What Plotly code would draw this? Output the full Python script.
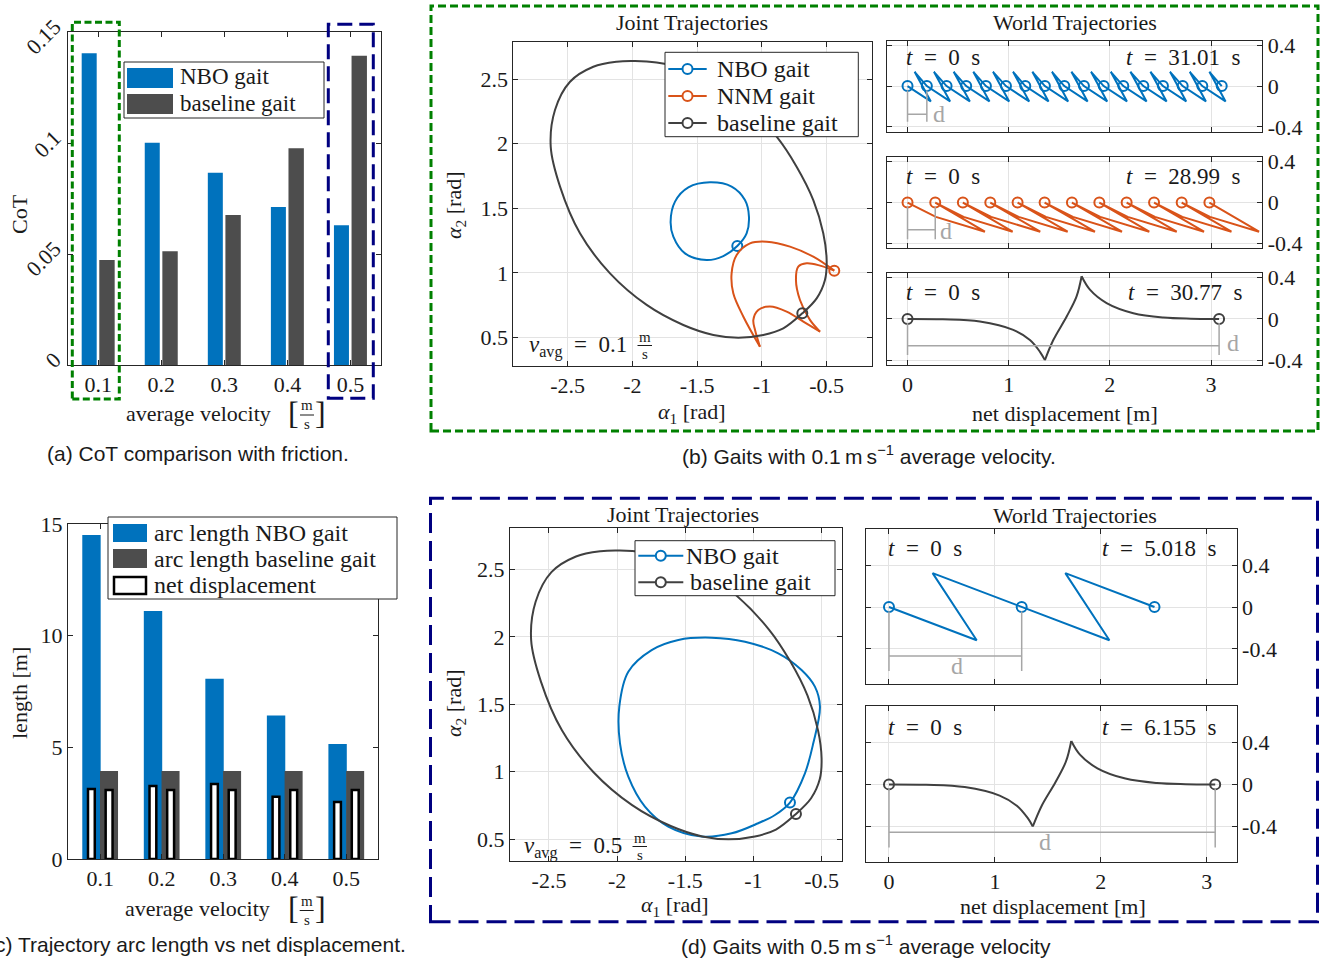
import plotly.graph_objects as go

W, H = 1325, 961
SERIF = "Liberation Serif"
SANS = "Liberation Sans"
TXT = "#1a1a1a"
AX = "#262626"
BLUE = "#0072BD"
ORANGE = "#D95319"
BASE_BAR = "#4D4D4D"
BASE_LINE = "#404040"
GRAY = "#A6A6A6"
GRID = "#E3E3E3"
GREEN = "rgb(0,128,0)"
NAVY = "rgb(0,0,128)"

# ------------------------------------------------------------------ data
velocities = [0.1, 0.2, 0.3, 0.4, 0.5]
velocity_labels = ["0.1", "0.2", "0.3", "0.4", "0.5"]

cot_nbo = [0.1404, 0.1001, 0.0866, 0.0712, 0.0629]
cot_baseline = [0.0473, 0.0512, 0.0676, 0.0976, 0.1393]

arc_nbo = [14.51, 11.10, 8.07, 6.43, 5.15]
arc_baseline = [3.94, 3.94, 3.94, 3.94, 3.94]
net_nbo = [3.13, 3.27, 3.36, 2.79, 2.55]
net_baseline = [3.09, 3.09, 3.09, 3.09, 3.09]

# joint trajectories (alpha1, alpha2)
base_joint_a1 = [-0.688, -0.835, -0.989, -1.182, -1.375, -1.607, -1.890, -2.173, -2.405,
                 -2.559, -2.631, -2.598, -2.482, -2.302, -2.122, -1.980, -1.813, -1.600,
                 -1.350, -1.123, -0.886, -0.732, -0.603, -0.526, -0.500, -0.513, -0.577, -0.688]
base_joint_a2 = [0.688, 0.572, 0.521, 0.500, 0.521, 0.598, 0.753, 0.997, 1.307,
                 1.668, 1.977, 2.260, 2.479, 2.595, 2.634, 2.639, 2.627, 2.580,
                 2.470, 2.305, 2.054, 1.822, 1.564, 1.307, 1.100, 0.946, 0.804, 0.688]

nbo01_a1 = [-1.190, -1.298, -1.427, -1.594, -1.684, -1.705, -1.671, -1.568, -1.401,
            -1.234, -1.131, -1.100, -1.118, -1.190]
nbo01_a2 = [1.209, 1.131, 1.100, 1.152, 1.281, 1.397, 1.552, 1.662, 1.701,
            1.668, 1.564, 1.436, 1.307, 1.209]

nnm01_a1 = [-0.441, -0.603, -0.783, -0.963, -1.092, -1.195, -1.234, -1.221, -1.143, -1.015, None,
            -1.015, -1.053, -1.066, -1.028, -0.938, -0.809, -0.680, -0.551, None,
            -0.551, -0.629, -0.706, -0.737, -0.719, -0.654, -0.551, -0.441]
nnm01_a2 = [1.018, 1.126, 1.204, 1.242, 1.229, 1.139, 0.997, 0.843, 0.662, 0.430, None,
            0.430, 0.559, 0.637, 0.714, 0.740, 0.701, 0.624, 0.546, None,
            0.546, 0.637, 0.791, 0.946, 1.049, 1.075, 1.057, 1.018]

nbo05_a1 = [-0.732, -0.622, -0.561, -0.512, -0.549, -0.647, -0.818, -1.062, -1.307, -1.551,
            -1.747, -1.918, -1.984, -1.979, -1.918, -1.796, -1.625, -1.380, -1.160, -0.965,
            -0.842, -0.732]
nbo05_a2 = [0.772, 0.989, 1.211, 1.483, 1.631, 1.754, 1.878, 1.964, 1.994, 1.977,
            1.902, 1.742, 1.483, 1.211, 0.964, 0.742, 0.594, 0.520, 0.544, 0.619,
            0.680, 0.772]

# world trajectories: step (circle) positions and one gait cycle between steps
nbo01_steps = [0, 0.191, 0.386, 0.580, 0.775, 0.973, 1.164, 1.358, 1.550, 1.744,
               1.939, 2.133, 2.331, 2.525, 2.720, 2.914, 3.106]
nbo01_cycle_dx = [0.23, 0.07]
nbo01_cycle_y = [-0.15, 0.14]

nnm01_steps = [0, 0.274, 0.547, 0.818, 1.088, 1.355, 1.625, 1.896, 2.166, 2.437, 2.710, 2.984]
nnm01_cycle_dx = [0.28, 0.765]
nnm01_cycle_y = [-0.14, -0.285]

nbo05_steps = [0, 1.253, 2.507]
nbo05_cycle_dx = [0.828, 0.412]
nbo05_cycle_y = [-0.317, 0.324]

base_world_steps = [0, 3.08]
base_world_x = [0, 0.35, 0.715, 1.045, 1.21, 1.309, 1.358, None,
                1.358, 1.441, 1.573, 1.671, 1.721, None,
                1.721, 1.803, 1.968, 2.232, 2.529, 2.80, 3.08]
base_world_y = [0, -0.004, -0.026, -0.107, -0.205, -0.319, -0.40, None,
                -0.40, -0.205, 0.023, 0.218, 0.413, None,
                0.413, 0.283, 0.153, 0.055, 0.013, 0.002, 0]

end_times = {"nbo01": "31.01", "nnm01": "28.99", "base01": "30.77",
             "nbo05": "5.018", "base05": "6.155"}


def build_walk(steps, cyc_dx, cyc_y):
    xs, ys = [], []
    for k in range(len(steps) - 1):
        xs.append(steps[k]); ys.append(0.0)
        for dx, yy in zip(cyc_dx, cyc_y):
            xs.append(steps[k] + dx); ys.append(yy)
    xs.append(steps[-1]); ys.append(0.0)
    return xs, ys


def px(x):
    return x / W


def py(y):
    return 1 - y / H


fig = go.Figure()

# ------------------------------------------------------------------ (a) CoT bars
fig.add_trace(go.Bar(x=velocities, y=cot_nbo, width=0.0238, offset=-0.0262, name="NBO gait",
                     marker=dict(color=BLUE, line=dict(width=0)), showlegend=False,
                     xaxis="x", yaxis="y"))
fig.add_trace(go.Bar(x=velocities, y=cot_baseline, width=0.0244, offset=0.0017, name="baseline gait",
                     marker=dict(color=BASE_BAR, line=dict(width=0)), showlegend=False,
                     xaxis="x", yaxis="y"))

# ------------------------------------------------------------------ (c) length bars
fig.add_trace(go.Bar(x=velocities, y=arc_nbo, width=0.0299, offset=-0.0291, name="arc length NBO gait",
                     marker=dict(color=BLUE, line=dict(width=0)), showlegend=False,
                     xaxis="x6", yaxis="y6"))
fig.add_trace(go.Bar(x=velocities, y=arc_baseline, width=0.0293, offset=-0.0003, name="arc length baseline gait",
                     marker=dict(color=BASE_BAR, line=dict(width=0)), showlegend=False,
                     xaxis="x6", yaxis="y6"))
fig.add_trace(go.Bar(x=velocities, y=net_nbo, width=0.0110, offset=-0.0198, name="net displacement",
                     marker=dict(color="white", line=dict(color="black", width=2.5)),
                     showlegend=False, xaxis="x6", yaxis="y6"))
fig.add_trace(go.Bar(x=velocities, y=net_baseline, width=0.0112, offset=0.0089, name="net displacement",
                     marker=dict(color="white", line=dict(color="black", width=2.5)),
                     showlegend=False, xaxis="x6", yaxis="y6"))


# ------------------------------------------------------------------ joint plots
def joint_curve(xs, ys, color, name, xa, ya):
    fig.add_trace(go.Scatter(x=xs, y=ys, mode="lines", name=name,
                             line=dict(color=color, width=2, shape="spline"),
                             connectgaps=False, showlegend=False, xaxis=xa, yaxis=ya, hoverinfo="skip"))
    fig.add_trace(go.Scatter(x=[xs[0]], y=[ys[0]], mode="markers", name=name,
                             marker=dict(symbol="circle-open", size=10, color=color, line=dict(width=2)),
                             showlegend=False, xaxis=xa, yaxis=ya))


joint_curve(nbo01_a1, nbo01_a2, BLUE, "NBO gait", "x2", "y2")
joint_curve(nnm01_a1, nnm01_a2, ORANGE, "NNM gait", "x2", "y2")
joint_curve(base_joint_a1, base_joint_a2, BASE_LINE, "baseline gait", "x2", "y2")

joint_curve(nbo05_a1, nbo05_a2, BLUE, "NBO gait", "x7", "y7")
joint_curve(base_joint_a1, base_joint_a2, BASE_LINE, "baseline gait", "x7", "y7")


# ------------------------------------------------------------------ world plots
def world(xs, ys, steps, color, xa, ya, spline=False):
    fig.add_trace(go.Scatter(x=xs, y=ys, mode="lines",
                             line=dict(color=color, width=2, shape="spline" if spline else "linear"),
                             connectgaps=False, showlegend=False, xaxis=xa, yaxis=ya, hoverinfo="skip"))
    fig.add_trace(go.Scatter(x=steps, y=[0] * len(steps), mode="markers",
                             marker=dict(symbol="circle-open", size=10, color=color, line=dict(width=2)),
                             showlegend=False, xaxis=xa, yaxis=ya))


wx, wy = build_walk(nbo01_steps, nbo01_cycle_dx, nbo01_cycle_y)
world(wx, wy, nbo01_steps, BLUE, "x3", "y3")
wx, wy = build_walk(nnm01_steps, nnm01_cycle_dx, nnm01_cycle_y)
world(wx, wy, nnm01_steps, ORANGE, "x4", "y4")
world(base_world_x, base_world_y, base_world_steps, BASE_LINE, "x5", "y5", spline=True)
wx, wy = build_walk(nbo05_steps, nbo05_cycle_dx, nbo05_cycle_y)
world(wx, wy, nbo05_steps, BLUE, "x8", "y8")
world(base_world_x, base_world_y, base_world_steps, BASE_LINE, "x9", "y9", spline=True)


# ------------------------------------------------------------------ axes
def axis(domain, anchor, rng, **kw):
    d = dict(domain=domain, anchor=anchor, range=rng, showline=True, linecolor=AX, linewidth=1,
             mirror="ticks", ticks="inside", ticklen=5, tickwidth=1, tickcolor=AX,
             tickfont=dict(family=SERIF, size=22, color=TXT), zeroline=False, showgrid=False,
             fixedrange=True, layer="above traces", automargin=False)
    d.update(kw)
    return d


jx_vals = [-2.5, -2, -1.5, -1, -0.5]
jx_text = ["-2.5", "-2", "-1.5", "-1", "-0.5"]
jy_vals = [0.5, 1, 1.5, 2, 2.5]
jy_text = ["0.5", "1", "1.5", "2", "2.5"]
wx_vals = [0, 1, 2, 3]
wy_vals = [-0.4, 0, 0.4]
wy_text = ["-0.4", "0", "0.4"]
grid = dict(showgrid=True, gridcolor=GRID, gridwidth=1)

bx = [px(887.3), px(1262.3)]
dx_ = [px(866), px(1236.7)]

layout_axes = dict(
    xaxis=axis([px(68), px(381)], "y", [0.0521, 0.5484], tickvals=velocities, ticktext=velocity_labels),
    yaxis=axis([py(365), py(32)], "x", [0, 0.15], tickvals=[0, 0.05, 0.1, 0.15],
               ticktext=["0", "0.05", "0.1", "0.15"], tickangle=-45,
               ticklabelstandoff=8, ticklabelshift=-8),
    xaxis2=axis([px(513.3), px(871.7)], "y2", [-2.92, -0.152], tickvals=jx_vals, ticktext=jx_text, **grid),
    yaxis2=axis([py(365.7), py(42.3)], "x2", [0.283, 2.784], tickvals=jy_vals, ticktext=jy_text, **grid),
    xaxis3=axis(bx, "y3", [-0.2, 3.507], tickvals=wx_vals, showticklabels=False, **grid),
    yaxis3=axis([py(131.7), py(41)], "x3", [-0.447, 0.442], tickvals=wy_vals, ticktext=wy_text, side="right", **grid),
    xaxis4=axis(bx, "y4", [-0.2, 3.507], tickvals=wx_vals, showticklabels=False, **grid),
    yaxis4=axis([py(248.3), py(157.3)], "x4", [-0.447, 0.442], tickvals=wy_vals, ticktext=wy_text, side="right", **grid),
    xaxis5=axis(bx, "y5", [-0.2, 3.507], tickvals=wx_vals, **grid),
    yaxis5=axis([py(365), py(273.3)], "x5", [-0.447, 0.442], tickvals=wy_vals, ticktext=wy_text, side="right", **grid),
    xaxis6=axis([px(68), px(378)], "y6", [0.0477, 0.5515], tickvals=velocities, ticktext=velocity_labels),
    yaxis6=axis([py(859), py(524)], "x6", [0, 15], tickvals=[0, 5, 10, 15]),
    xaxis7=axis([px(510), px(842.3)], "y7", [-2.786, -0.348], tickvals=jx_vals, ticktext=jx_text, **grid),
    yaxis7=axis([py(861), py(528.3)], "x7", [0.339, 2.804], tickvals=jy_vals, ticktext=jy_text, **grid),
    xaxis8=axis(dx_, "y8", [-0.217, 3.283], tickvals=wx_vals, showticklabels=False, **grid),
    yaxis8=axis([py(684), py(529)], "x8", [-0.735, 0.745], tickvals=wy_vals, ticktext=wy_text, side="right", **grid),
    xaxis9=axis(dx_, "y9", [-0.217, 3.283], tickvals=wx_vals, **grid),
    yaxis9=axis([py(861.7), py(706)], "x9", [-0.735, 0.745], tickvals=wy_vals, ticktext=wy_text, side="right", **grid),
)

# ------------------------------------------------------------------ annotations & shapes
annotations = []
shapes = []


def ann(text, x, y, size=22, xanchor="center", yanchor="middle", family=SERIF, color=TXT, angle=0):
    annotations.append(dict(text=text, x=px(x), y=py(y), xref="paper", yref="paper",
                            xanchor=xanchor, yanchor=yanchor, showarrow=False, textangle=angle,
                            font=dict(family=family, size=size, color=color)))


def hline_px(x0, x1, y, color=TXT, width=1):
    shapes.append(dict(type="line", xref="paper", yref="paper", x0=px(x0), x1=px(x1), y0=py(y), y1=py(y),
                       line=dict(color=color, width=width), layer="above"))


def rect_px(x0, y0, x1, y1, fill, line_color=None, line_width=0):
    shapes.append(dict(type="rect", xref="paper", yref="paper", x0=px(x0), x1=px(x1), y0=py(y1), y1=py(y0),
                       fillcolor=fill, line=dict(color=line_color or fill, width=line_width), layer="above"))


def circle_px(xc, yc, r, color):
    shapes.append(dict(type="circle", xref="paper", yref="paper", x0=px(xc - r), x1=px(xc + r),
                       y0=py(yc + r), y1=py(yc - r), fillcolor="white",
                       line=dict(color=color, width=2), layer="above"))


def line_legend_item(x0, x1, yc, color, text, tx, size=24):
    hline_px(x0, x1, yc, color=color, width=2)
    circle_px((x0 + x1) / 2, yc, 5, color)
    ann(text, tx, yc, size=size, xanchor="left")


def frac(xc, ym, ys, yl, xl0, xl1):
    ann("m", xc, ym, size=15)
    ann("s", xc, ys, size=15)
    hline_px(xl0, xl1, yl, color=TXT, width=1)


def unit_bracket(xl, xr, yc, xc, ym, ys, yl):
    ann("[", xl, yc, size=32)
    ann("]", xr, yc, size=32)
    frac(xc, ym, ys, yl, xc - 7, xc + 7)


# (a)
ann("CoT", 19, 214, angle=-90)
ann("average velocity", 198.5, 413)
unit_bracket(293, 320.7, 413, 307, 405, 424, 415)
ann("(a) CoT comparison with friction.", 198, 453, size=21, family=SANS)
# (a) legend
rect_px(124, 62, 324, 118, "white", AX, 1)
rect_px(127, 68, 173, 88, BLUE)
rect_px(127, 94, 173, 114, BASE_BAR)
ann("NBO gait", 178, 77, size=23, xanchor="left")
ann("baseline gait", 178, 103, size=23, xanchor="left")

# (c)
ann("length [m]", 19, 693, angle=-90)
ann("average velocity", 197.7, 908)
unit_bracket(293.3, 320.7, 908, 306.7, 901, 920, 910.5)
ann("(c) Trajectory arc length vs net displacement.", 408, 944, size=21, family=SANS, xanchor="right")
rect_px(108, 517, 397, 599, "white", AX, 1)
rect_px(113, 524, 147, 542, BLUE)
rect_px(113, 549, 147, 568, BASE_BAR)
rect_px(114, 577, 146, 594, "white", "black", 2.5)
ann("arc length NBO gait", 152, 533, size=24, xanchor="left")
ann("arc length baseline gait", 152, 559, size=24, xanchor="left")
ann("net displacement", 152, 585, size=24, xanchor="left")

# (b)
ann("Joint Trajectories", 692, 22)
ann("World Trajectories", 1075, 22)
ann("<i>α</i><sub>2</sub> [rad]", 455, 205, angle=-90)
ann("<i>α</i><sub>1</sub> [rad]", 692, 413)
ann("net displacement [m]", 1065, 413)
ann("<i>v</i><sub>avg</sub>\u2002=\u20020.1", 527, 347, size=23, xanchor="left")
frac(645, 337, 354, 345.5, 637.5, 652)
ann("(b) Gaits with 0.1\u2009m\u2009s<sup>−1</sup> average velocity.", 869, 455, size=21, family=SANS)
# (b) legend
rect_px(665, 52.3, 858.3, 136.7, "white", AX, 1)
line_legend_item(668.3, 706.7, 69, BLUE, "NBO gait", 715)
line_legend_item(668.3, 706.7, 96, ORANGE, "NNM gait", 715)
line_legend_item(668.3, 706.7, 123, BASE_LINE, "baseline gait", 715)

tl = "<i>t</i>\u2002=\u2002"
ann(tl + "0\u2002s", 904, 58, size=23, xanchor="left")
ann(tl + end_times["nbo01"] + "\u2002s", 1243, 58, size=23, xanchor="right")
ann(tl + "0\u2002s", 904, 176, size=23, xanchor="left")
ann(tl + end_times["nnm01"] + "\u2002s", 1243, 176, size=23, xanchor="right")
ann(tl + "0\u2002s", 904, 292, size=23, xanchor="left")
ann(tl + end_times["base01"] + "\u2002s", 1245, 292, size=23, xanchor="right")

# (d)
ann("Joint Trajectories", 683, 514)
ann("World Trajectories", 1075, 515)
ann("<i>α</i><sub>2</sub> [rad]", 455, 703, angle=-90)
ann("<i>α</i><sub>1</sub> [rad]", 675, 906)
ann("net displacement [m]", 1053, 906)
ann("<i>v</i><sub>avg</sub>\u2002=\u20020.5", 522, 847, size=23, xanchor="left")
frac(640, 838, 855, 846.5, 632.5, 647)
ann("(d) Gaits with 0.5\u2009m\u2009s<sup>−1</sup> average velocity", 866, 945, size=21, family=SANS)
# (d) legend
rect_px(635, 540.7, 835, 595.7, "white", AX, 1)
line_legend_item(638.3, 683.3, 555.7, BLUE, "NBO gait", 684)
line_legend_item(638.3, 683.3, 582.3, BASE_LINE, "baseline gait", 688)

ann(tl + "0\u2002s", 886, 548, size=23, xanchor="left")
ann(tl + end_times["nbo05"] + "\u2002s", 1219, 548, size=23, xanchor="right")
ann(tl + "0\u2002s", 886, 727, size=23, xanchor="left")
ann(tl + end_times["base05"] + "\u2002s", 1219, 727, size=23, xanchor="right")


# displacement brackets "d"
def d_bracket(xa, ya, x_end, y_bar, y_low, lx, ly, y_top=-0.04):
    for xv in (0, x_end):
        shapes.append(dict(type="line", xref=xa, yref=ya, x0=xv, x1=xv, y0=y_top, y1=y_low,
                           line=dict(color=GRAY, width=1.5)))
    shapes.append(dict(type="line", xref=xa, yref=ya, x0=0, x1=x_end, y0=y_bar, y1=y_bar,
                       line=dict(color=GRAY, width=1.5)))
    annotations.append(dict(text="d", x=lx, y=ly, xref=xa, yref=ya, showarrow=False,
                            xanchor="center", yanchor="middle",
                            font=dict(family=SERIF, size=24, color=GRAY)))


d_bracket("x3", "y3", nbo01_steps[1], -0.276, -0.35, 0.31, -0.27)
d_bracket("x4", "y4", nnm01_steps[1], -0.267, -0.358, 0.38, -0.28)
d_bracket("x5", "y5", base_world_steps[-1], -0.26, -0.35, 3.22, -0.23)
d_bracket("x8", "y8", nbo05_steps[1], -0.467, -0.61, 0.64, -0.56)
d_bracket("x9", "y9", base_world_steps[-1], -0.456, -0.60, 1.47, -0.55)

# highlight boxes
shapes.append(dict(type="rect", xref="paper", yref="paper", x0=px(72.3), x1=px(119.3), y0=py(399), y1=py(22.3),
                   line=dict(color=GREEN, width=3, dash="7px,3.5px"), layer="above"))
shapes.append(dict(type="rect", xref="paper", yref="paper", x0=px(328.3), x1=px(373.3), y0=py(398.3), y1=py(24.3),
                   line=dict(color=NAVY, width=3, dash="15px,7px"), layer="above"))
shapes.append(dict(type="rect", xref="paper", yref="paper", x0=px(431), x1=px(1318), y0=py(431), y1=py(6),
                   line=dict(color=GREEN, width=3, dash="8px,4px"), layer="above"))
shapes.append(dict(type="rect", xref="paper", yref="paper", x0=px(430.5), x1=px(1317.5), y0=py(921.7), y1=py(498.3),
                   line=dict(color=NAVY, width=3, dash="20px,8px"), layer="above"))

fig.update_layout(
    width=W, height=H, autosize=False,
    margin=dict(l=0, r=0, t=0, b=0, autoexpand=False),
    paper_bgcolor="white", plot_bgcolor="white",
    barmode="overlay",
    showlegend=False,
    annotations=annotations,
    shapes=shapes,
    **layout_axes,
)

fig.write_html("out.html", config={"displayModeBar": False},
               post_script="document.body.style.margin='0';document.body.style.overflow='hidden';")
